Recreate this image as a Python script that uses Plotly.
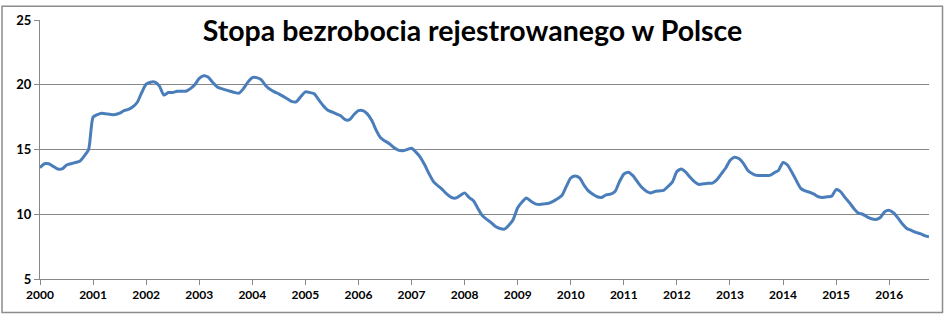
import plotly.graph_objects as go

years = [str(y) for y in range(2000, 2017)]

rate_2000 = [13.6, 13.9, 13.9, 13.7, 13.5, 13.5, 13.8, 13.9, 14.0, 14.1, 14.5, 15.0]
rate_2001 = [17.5, 17.7, 17.8, 17.75, 17.7, 17.7, 17.8, 18.0, 18.1, 18.3, 18.65, 19.4]
rate_2002 = [20.05, 20.2, 20.2, 19.9, 19.2, 19.4, 19.4, 19.5, 19.5, 19.5, 19.7, 20.0]
rate_2003 = [20.5, 20.7, 20.6, 20.2, 19.85, 19.7, 19.6, 19.5, 19.4, 19.35, 19.7, 20.2]
rate_2004 = [20.55, 20.55, 20.4, 19.95, 19.65, 19.45, 19.3, 19.1, 18.9, 18.7, 18.7, 19.1]
rate_2005 = [19.45, 19.4, 19.3, 18.85, 18.4, 18.05, 17.9, 17.75, 17.6, 17.3, 17.3, 17.7]
rate_2006 = [18.0, 18.0, 17.75, 17.25, 16.5, 15.9, 15.65, 15.45, 15.15, 14.95, 14.9, 15.0]
rate_2007 = [15.1, 14.8, 14.4, 13.8, 13.1, 12.5, 12.2, 11.9, 11.55, 11.3, 11.25, 11.45]
rate_2008 = [11.65, 11.3, 11.05, 10.45, 9.9, 9.6, 9.35, 9.05, 8.9, 8.85, 9.15, 9.6]
rate_2009 = [10.5, 10.95, 11.25, 11.0, 10.8, 10.75, 10.8, 10.85, 11.0, 11.2, 11.45, 12.15]
rate_2010 = [12.8, 12.95, 12.8, 12.25, 11.8, 11.55, 11.35, 11.3, 11.5, 11.55, 11.75, 12.5]
rate_2011 = [13.1, 13.25, 13.0, 12.55, 12.1, 11.8, 11.65, 11.75, 11.8, 11.85, 12.15, 12.5]
rate_2012 = [13.3, 13.5, 13.25, 12.85, 12.5, 12.3, 12.35, 12.4, 12.4, 12.65, 13.1, 13.55]
rate_2013 = [14.15, 14.4, 14.3, 13.95, 13.4, 13.15, 13.0, 13.0, 13.0, 13.0, 13.2, 13.4]
rate_2014 = [14.0, 13.8, 13.25, 12.6, 12.0, 11.8, 11.7, 11.55, 11.35, 11.3, 11.35, 11.4]
rate_2015 = [11.9, 11.75, 11.3, 10.9, 10.45, 10.1, 10.0, 9.8, 9.65, 9.6, 9.75, 10.2]
rate_2016 = [10.3, 10.1, 9.7, 9.25, 8.9, 8.75, 8.6, 8.5, 8.35, 8.25]

rates = (rate_2000 + rate_2001 + rate_2002 + rate_2003 + rate_2004 + rate_2005 +
         rate_2006 + rate_2007 + rate_2008 + rate_2009 + rate_2010 + rate_2011 +
         rate_2012 + rate_2013 + rate_2014 + rate_2015 + rate_2016)
months = list(range(len(rates)))

title_text = "Stopa bezrobocia rejestrowanego w Polsce"

fig = go.Figure()
fig.add_trace(go.Scatter(
    x=months, y=rates, mode="lines",
    line=dict(color="#4A7EBB", width=3, shape="spline", smoothing=0.6),
    hoverinfo="skip", showlegend=False,
))

grid_c = "#888888"
fig.update_layout(
    width=945, height=322,
    margin=dict(l=40, r=16, t=16, b=43),
    paper_bgcolor="white", plot_bgcolor="white",
    title=dict(text="<b>" + title_text + "</b>", x=0.5, xanchor="center",
               y=1 - 31 / 322, yanchor="middle",
               font=dict(family="Lato", size=28.5, color="black")),
    xaxis=dict(range=[0, 201], tickmode="array",
               tickvals=[12 * i for i in range(len(years))], ticktext=years,
               showgrid=False, zeroline=False,
               showline=True, linecolor=grid_c, linewidth=1,
               ticks="outside", ticklen=5, tickcolor=grid_c,
               tickfont=dict(family="Lato", size=12, color="black", weight="bold")),
    yaxis=dict(range=[5, 25], tickmode="array", tickvals=[5, 10, 15, 20, 25],
               showgrid=True, gridcolor=grid_c, gridwidth=1, zeroline=False,
               showline=True, linecolor=grid_c, linewidth=1,
               ticks="outside", ticklen=5, tickcolor=grid_c,
               tickfont=dict(family="Lato", size=13, color="black", weight="bold")),
)

fig.add_shape(type="rect", xref="paper", yref="paper",
              x0=(2 - 40) / 889, x1=(942.5 - 40) / 889,
              y0=(279 - 313) / 263, y1=(279 - 2) / 263,
              line=dict(color="#8c8c8c", width=1.5), fillcolor="rgba(0,0,0,0)",
              layer="below")

fig.write_html("out.html", config={"displayModeBar": False},
               post_script="document.body.style.margin='0';")
